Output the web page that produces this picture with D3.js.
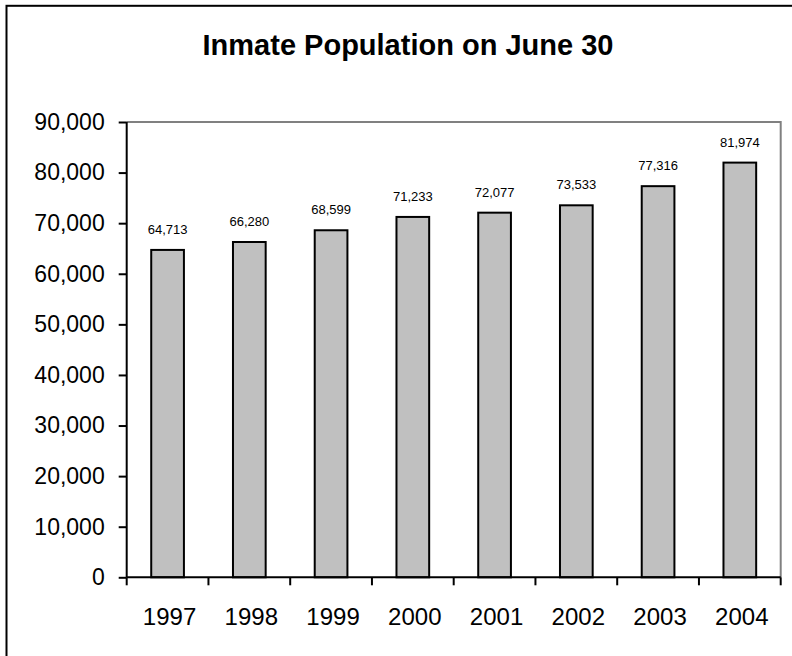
<!DOCTYPE html>
<html>
<head>
<meta charset="utf-8">
<script src="https://cdn.jsdelivr.net/npm/d3@7"></script>
<style>
  body { margin: 0; background: #fff; }
  svg { display: block; }
</style>
</head>
<body>
<div id="chart"></div>
<script>
const years = ["1997", "1998", "1999", "2000", "2001", "2002", "2003", "2004"]
const inmates = [64713, 66280, 68599, 71233, 72077, 73533, 77316, 81974]
const yTicks = [0, 10000, 20000, 30000, 40000, 50000, 60000, 70000, 80000, 90000]

const width = 792
const height = 656
const margin = { top: 122, left: 126.7, bottom: 78.7, right: 11.3 }
const iwidth = width - margin.left - margin.right
const iheight = height - margin.top - margin.bottom

const svg = d3.select("#chart").append("svg")
    .attr("width", width)
    .attr("height", height)

// outer chart border (runs past the right and bottom edges)
svg.append("rect")
    .attr("x", 6.5).attr("y", 5.8)
    .attr("width", 820).attr("height", 700)
    .attr("fill", "none")
    .attr("stroke", "#000")
    .attr("stroke-width", 2)

svg.append("text")
    .attr("x", 408).attr("y", 55)
    .attr("text-anchor", "middle")
    .style("font-family", "'Liberation Sans', Arial, sans-serif")
    .style("font-weight", "bold")
    .style("font-size", "29px")
    .text("Inmate Population on June 30")

const g = svg.append("g").attr("transform", `translate(${margin.left},${margin.top})`)

const x = d3.scaleBand()
    .domain(years)
    .range([0, iwidth])
    .paddingInner(0.6)
    .paddingOuter(0.3)

const xEdge = d3.scaleLinear().domain([0, years.length]).range([0, iwidth])

const y = d3.scaleLinear()
    .domain([0, 90000])
    .range([iheight, 0])

// plot area top and right edges in gray
g.append("path")
    .attr("d", `M0,${y(90000)}H${iwidth}V${iheight}`)
    .attr("fill", "none")
    .attr("stroke", "#808080")
    .attr("stroke-width", 2)

g.selectAll("rect.bar").data(inmates)
    .enter().append("rect")
    .attr("class", "bar")
    .attr("x", (d, i) => x(years[i]))
    .attr("y", d => y(d))
    .attr("width", x.bandwidth())
    .attr("height", d => iheight - y(d))
    .attr("fill", "#c0c0c0")
    .attr("stroke", "#000")
    .attr("stroke-width", 2)

g.selectAll("text.val").data(inmates)
    .enter().append("text")
    .attr("class", "val")
    .attr("x", (d, i) => x(years[i]) + x.bandwidth() / 2)
    .attr("y", d => y(d) - 16)
    .attr("text-anchor", "middle")
    .style("font-family", "'Liberation Sans', Arial, sans-serif")
    .style("font-size", "13px")
    .text(d => d3.format(",")(d))

// y axis
const yAxis = g.append("g")
    .call(d3.axisLeft(y).tickValues(yTicks).tickFormat(d3.format(",")).tickSize(8).tickPadding(14))
yAxis.select(".domain").attr("stroke-width", 2).attr("d", `M0,${y(90000)}V${iheight}`)
yAxis.selectAll(".tick line").attr("stroke-width", 2)
yAxis.selectAll("text")
    .style("font-family", "'Liberation Sans', Arial, sans-serif")
    .style("font-size", "23px")
    .attr("fill", "#000")

// x axis: ticks sit on the category boundaries
const xAxis = g.append("g")
    .attr("transform", `translate(0,${iheight})`)
xAxis.append("path")
    .attr("d", `M0,0H${iwidth}`)
    .attr("stroke", "#000")
    .attr("stroke-width", 2)
xAxis.selectAll("line.tk").data(d3.range(years.length + 1))
    .enter().append("line")
    .attr("class", "tk")
    .attr("x1", d => xEdge(d)).attr("x2", d => xEdge(d))
    .attr("y1", 0).attr("y2", 8)
    .attr("stroke", "#000")
    .attr("stroke-width", 2)
xAxis.selectAll("text").data(years)
    .enter().append("text")
    .attr("x", d => x(d) + x.bandwidth() / 2 + 2)
    .attr("y", 48)
    .attr("text-anchor", "middle")
    .style("font-family", "'Liberation Sans', Arial, sans-serif")
    .style("font-size", "24px")
    .text(d => d)
</script>
</body>
</html>
